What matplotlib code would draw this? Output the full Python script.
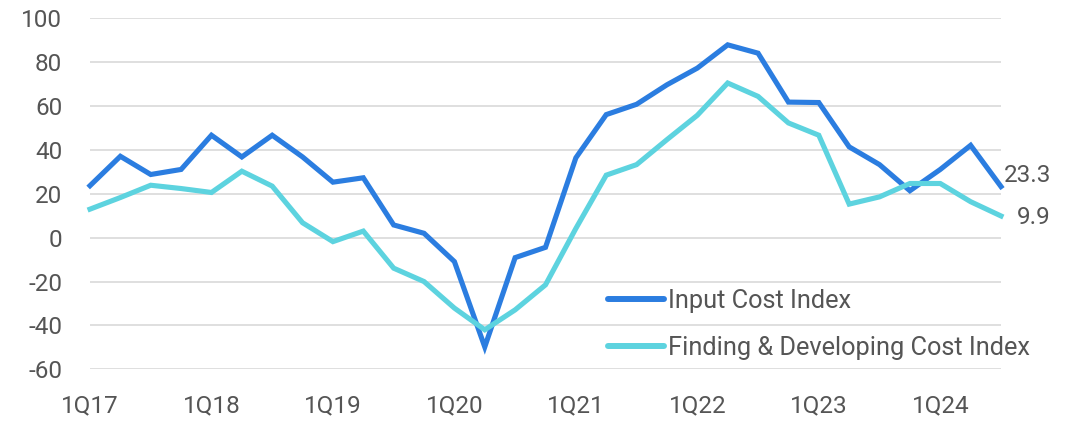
import matplotlib
matplotlib.use("Agg")
import matplotlib.pyplot as plt

quarters = ["1Q17", "2Q17", "3Q17", "4Q17", "1Q18", "2Q18", "3Q18", "4Q18",
            "1Q19", "2Q19", "3Q19", "4Q19", "1Q20", "2Q20", "3Q20", "4Q20",
            "1Q21", "2Q21", "3Q21", "4Q21", "1Q22", "2Q22", "3Q22", "4Q22",
            "1Q23", "2Q23", "3Q23", "4Q23", "1Q24", "2Q24", "3Q24"]

input_cost = [23.7, 37.1, 28.8, 31.1, 46.7, 36.8, 46.7, 36.8,
              25.3, 27.3, 5.8, 2.0, -10.9, -49.8, -9.1, -4.4,
              36.4, 56.1, 60.8, 69.7, 77.3, 87.9, 84.1, 61.8,
              61.6, 41.4, 33.3, 21.4, 31.1, 42.1, 23.3]

fd_cost = [13.0, 18.3, 23.9, 22.4, 20.6, 30.3, 23.5, 6.8,
           -1.8, 3.0, -13.9, -20.0, -32.1, -42.0, -32.9, -21.5,
           4.2, 28.5, 33.3, 44.7, 55.8, 70.5, 64.4, 52.3,
           46.7, 15.3, 18.6, 24.7, 24.7, 16.4, 9.9]

series_names = ["Input Cost Index", "Finding & Developing Cost Index"]
y_ticks = [-60, -40, -20, 0, 20, 40, 60, 80, 100]

BLUE = "#2b7de0"
CYAN = "#5dd3df"
TEXT = "#555555"

plt.rcParams["font.family"] = ["Roboto", "DejaVu Sans"]
plt.rcParams["font.size"] = 17.5

fig = plt.figure(figsize=(10.79, 4.21), dpi=100)
ax = fig.add_axes([90 / 1079, 1 - 369.3 / 421, 911 / 1079, 351 / 421])

x = list(range(len(quarters)))
ax.plot(x, input_cost, color=BLUE, lw=3.7, label=series_names[0],
        solid_joinstyle="miter", clip_on=False, zorder=3)
ax.plot(x, fd_cost, color=CYAN, lw=3.7, label=series_names[1],
        solid_joinstyle="miter", clip_on=False, zorder=3)

ax.set_xlim(0, len(quarters) - 1)
ax.set_ylim(-60, 100)
ax.set_yticks(y_ticks)
ax.set_yticklabels([str(v) for v in y_ticks], color=TEXT)
ax.set_xticks(x[::4])
ax.set_xticklabels(quarters[::4], color=TEXT)
ax.tick_params(axis="both", length=0)
ax.tick_params(axis="y", pad=20)
ax.tick_params(axis="x", pad=18)
ax.grid(axis="y", color="#d9d9d9", lw=1.2)
ax.set_axisbelow(True)
for s in ax.spines.values():
    s.set_visible(False)

# end labels
ax.annotate(f"{input_cost[-1]:.1f}", xy=(x[-1], input_cost[-1]),
            xytext=(36, 8), textcoords="offset points", ha="right", va="center",
            color=TEXT)
ax.annotate(f"{fd_cost[-1]:.1f}", xy=(x[-1], fd_cost[-1]),
            xytext=(36, -1), textcoords="offset points", ha="right", va="center",
            color=TEXT)

leg = ax.legend(loc="upper left", bbox_to_anchor=(608 / 1079, 1 - 289 / 421),
                bbox_transform=fig.transFigure, frameon=False, borderpad=0,
                borderaxespad=0, handlelength=2.2, handletextpad=0.15,
                labelspacing=0.9, prop={"size": 18.3})
for line in leg.get_lines():
    line.set_linewidth(4.3)
    line.set_solid_capstyle("round")
for t in leg.get_texts():
    t.set_color(TEXT)

fig.savefig("out.png", dpi=100)
